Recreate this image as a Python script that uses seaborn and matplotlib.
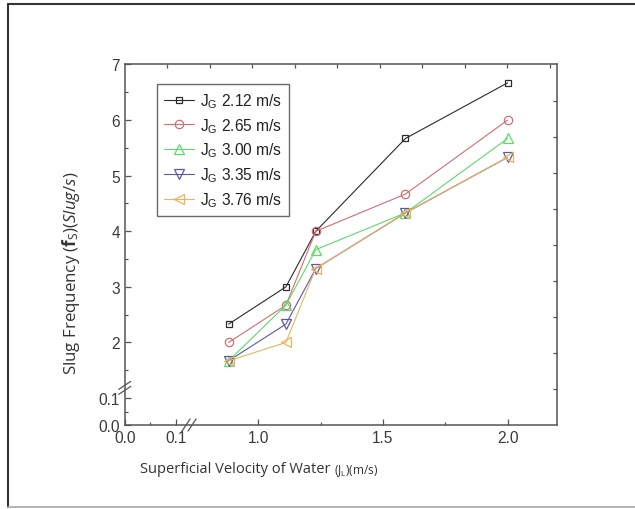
import matplotlib
matplotlib.use("Agg")
import matplotlib.pyplot as plt
import pandas as pd
import seaborn as sns
from matplotlib.lines import Line2D
from matplotlib.ticker import FixedLocator, FixedFormatter

# Data
water_velocity = [0.88, 1.11, 1.23, 1.59, 2.00]
gas_velocities = ["2.12", "2.65", "3.00", "3.35", "3.76"]
freq_212 = [2.33, 3.00, 4.00, 5.67, 6.67]
freq_265 = [2.00, 2.67, 4.00, 4.67, 6.00]
freq_300 = [1.67, 2.67, 3.67, 4.33, 5.67]
freq_335 = [1.67, 2.33, 3.33, 4.33, 5.33]
freq_376 = [1.67, 2.00, 3.33, 4.33, 5.33]

# broken axes: lower segment (0.0 / 0.1) squeezed to the left / bottom
x_tick_pos = [0.463, 0.668, 1.0, 1.5, 2.0]
x_tick_lab = ["0.0", "0.1", "1.0", "1.5", "2.0"]
x_minor = [0.565, 1.25, 1.75]
y_tick_pos = [0.516, 1.0, 2, 3, 4, 5, 6, 7]
y_tick_lab = ["0.0", "0.1", "2", "3", "4", "5", "6", "7"]
y_minor = [0.758, 1.5, 2.5, 3.5, 4.5, 5.5, 6.5]

colors = ["#2b2b2b", "#cf6f72", "#5fd96a", "#5a58a8", "#e9b45c"]
markers = ["s", "o", "^", "v", "<"]
msizes = [5, 6, 6.5, 6.5, 6.5]

series = [freq_212, freq_265, freq_300, freq_335, freq_376]
df = pd.concat(
    [pd.DataFrame({"JL": water_velocity, "fs": s, "JG": g})
     for s, g in zip(series, gas_velocities)],
    ignore_index=True,
)

sns.set_style("ticks")
plt.rcParams["font.family"] = ["Liberation Sans", "DejaVu Sans"]
plt.rcParams["mathtext.fontset"] = "custom"
plt.rcParams["mathtext.rm"] = "Open Sans"
plt.rcParams["mathtext.it"] = "Open Sans:italic"
plt.rcParams["mathtext.bf"] = "Open Sans:bold"

fig = plt.figure(figsize=(6.35, 5.1), dpi=100)
ax = fig.add_axes([0.1964, 0.1647, 0.6803, 0.7069])

sns.lineplot(
    data=df, x="JL", y="fs", hue="JG", style="JG",
    palette=colors, markers=markers, dashes=False,
    linewidth=0.8, legend=False, ax=ax,
)

for line, c, ms in zip(ax.lines, colors, msizes):
    line.set_markerfacecolor("none")
    line.set_markeredgecolor(c)
    line.set_markeredgewidth(0.9)
    line.set_markersize(ms)

labels = [r"J$_\mathdefault{G}$ " + g + " m/s" for g in gas_velocities]
leg = ax.legend(
    handles=ax.lines[:5], labels=labels, loc="upper left",
    bbox_to_anchor=(0.075, 0.946), borderaxespad=0, frameon=True,
    fancybox=False, fontsize=11.2, handlelength=1.9, handletextpad=0.4,
    labelspacing=0.4, borderpad=0.45, labelcolor="#222222",
)
leg.get_frame().set_edgecolor("#444444")
leg.get_frame().set_linewidth(1.0)

ax.set_xlim(0.463, 2.197)
ax.set_ylim(0.516, 7)
ax.xaxis.set_major_locator(FixedLocator(x_tick_pos))
ax.xaxis.set_major_formatter(FixedFormatter(x_tick_lab))
ax.xaxis.set_minor_locator(FixedLocator(x_minor))
ax.yaxis.set_major_locator(FixedLocator(y_tick_pos))
ax.yaxis.set_major_formatter(FixedFormatter(y_tick_lab))
ax.yaxis.set_minor_locator(FixedLocator(y_minor))
ax.tick_params(which="both", direction="in", colors="#555555",
               labelcolor="#3a3a3a", labelsize=11.2, width=0.9)
ax.tick_params(which="major", length=4)
ax.tick_params(which="minor", length=2.5)
for sp in ax.spines.values():
    sp.set_color("#555555")
    sp.set_linewidth(1.1)

# axis labels
ax.set_xlabel("Superficial Velocity of Water", fontfamily="Open Sans",
              fontsize=10.5, color="#333333")
ax.xaxis.set_label_coords(0.255, -0.1)
ax.annotate(r"(J$_\mathdefault{L}$)(m/s)", xy=(1, 0.22), xycoords=ax.xaxis.label,
            xytext=(3, 0), textcoords="offset points", va="baseline",
            fontfamily="Open Sans", fontsize=8.5, color="#333333")
ax.set_ylabel(r"Slug Frequency ($\mathbf{f}_{\mathdefault{S}}$)($\mathit{Slug/s}$)",
              fontfamily="Open Sans", fontsize=12.2, color="#333333")
ax.yaxis.set_label_coords(-0.10, 0.424)

# mirrored ticks on top / right with their own spacing
axm = fig.add_axes(ax.get_position(), frameon=False)
axm.set_xlim(0, 10.165)
axm.set_ylim(0, 10)
axm.set_xticks(range(1, 11))
axm.set_yticks(range(1, 10))
axm.tick_params(which="both", direction="in", colors="#555555", width=0.9,
                length=3, top=True, right=True, bottom=False, left=False,
                labeltop=False, labelright=False, labelbottom=False,
                labelleft=False)
axm.patch.set_visible(False)

# break marks
px_x = 1 / 432.0
px_y = 1 / 360.5
yb = 0.103
for off in (-2.5, 2.5):
    ax.plot([-6 * px_x, 6 * px_x], [yb + (off - 4) * px_y, yb + (off + 4) * px_y],
            transform=ax.transAxes, clip_on=False, color="#555555", lw=0.9)
xb = 0.149
for off in (-3, 3):
    ax.plot([xb + (off - 4) * px_x, xb + (off + 4) * px_x], [-6 * px_y, 6 * px_y],
            transform=ax.transAxes, clip_on=False, color="#555555", lw=0.9)

# frame around the figure
fig.add_artist(Line2D([8 / 635, 8 / 635], [2 / 510, 1 - 5 / 510],
                      transform=fig.transFigure, color="#333333", lw=1.5))
fig.add_artist(Line2D([8 / 635, 1], [1 - 5 / 510, 1 - 5 / 510],
                      transform=fig.transFigure, color="#333333", lw=1.5))
fig.add_artist(Line2D([8 / 635, 1], [2 / 510, 2 / 510],
                      transform=fig.transFigure, color="#aaaaaa", lw=1.2))

fig.savefig("out.png", dpi=100)
